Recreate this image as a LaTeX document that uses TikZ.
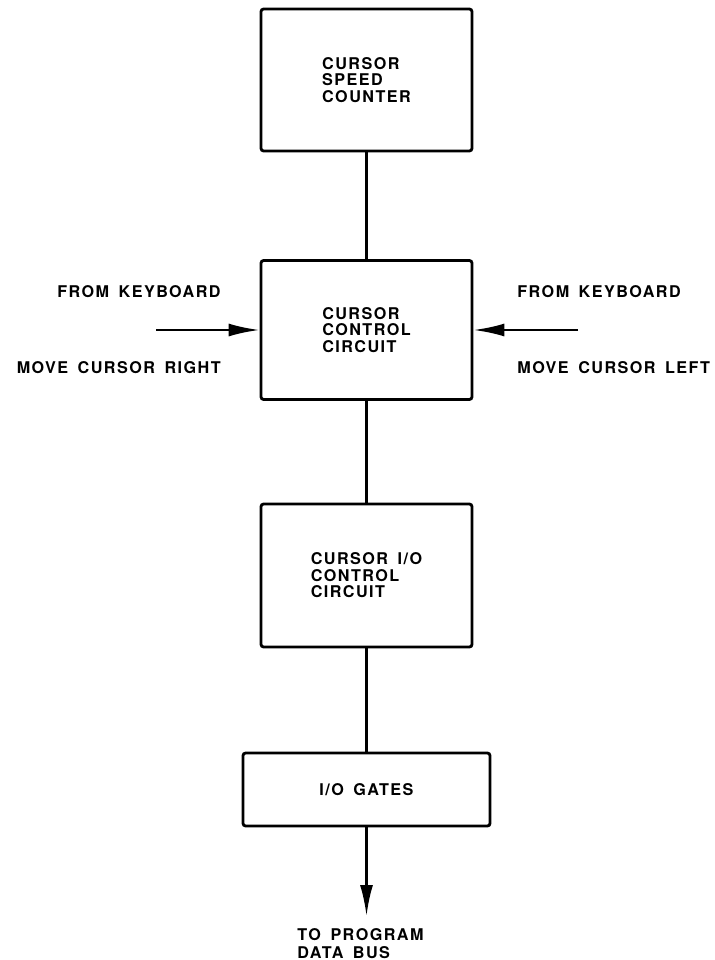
\documentclass[tikz,border=0pt]{standalone}
\usepackage{fontspec}
\newfontfamily\diagfont[LetterSpace=9,WordSpace=1.6]{TeX Gyre Heros}
\usetikzlibrary{arrows.meta,positioning}

\begin{document}
\begin{tikzpicture}[
    block/.style={rectangle, draw=black, line width=1.6pt, rounded corners=1.5pt,
                minimum width=4.22cm, align=left, font=\diagfont\bfseries\fontsize{9.2}{9.4}\selectfont},
    lbl/.style={inner sep=0pt, font=\diagfont\bfseries\fontsize{9.2}{10.2}\selectfont},
    link/.style={line width=1.5pt},
    arr/.style={-{Latex[length=0.62cm,width=0.26cm]}, line width=1.5pt}
]
\useasboundingbox (0,0) rectangle (14.3,-19.2);

\node[block, minimum height=2.84cm] (speed) at (7.33,-1.6) {CURSOR\\SPEED\\COUNTER};
\node[block, minimum height=2.78cm] (ctrl) at (7.33,-6.6) {CURSOR\\CONTROL\\CIRCUIT};
\node[block, minimum height=2.86cm] (io) at (7.33,-11.51) {CURSOR I/O\\CONTROL\\CIRCUIT};
\node[block, minimum width=4.94cm, minimum height=1.46cm] (gates) at (7.33,-15.79) {I/O GATES};

\node[lbl, anchor=east] (fromR) at (4.42,-5.84) {FROM KEYBOARD};
\node[lbl, anchor=east] (moveR) at (4.42,-7.36) {MOVE CURSOR RIGHT};
\node[lbl, anchor=west] (fromL) at (10.34,-5.84) {FROM KEYBOARD};
\node[lbl, anchor=west] (moveL) at (10.34,-7.36) {MOVE CURSOR LEFT};
\node[lbl, align=left] (busl) at (7.21,-18.88) {TO PROGRAM\\DATA BUS};

\coordinate (kbR) at (3.12,-6.6);
\coordinate (kbL) at (11.56,-6.6);
\coordinate (bus) at (7.33,-18.32);

\draw[link] (speed) -- (ctrl);
\draw[link] (ctrl) -- (io);
\draw[link] (io) -- (gates);
\draw[arr] (kbR) -- (ctrl);
\draw[arr] (kbL) -- (ctrl);
\draw[arr] (gates) -- (bus);
\end{tikzpicture}
\end{document}
